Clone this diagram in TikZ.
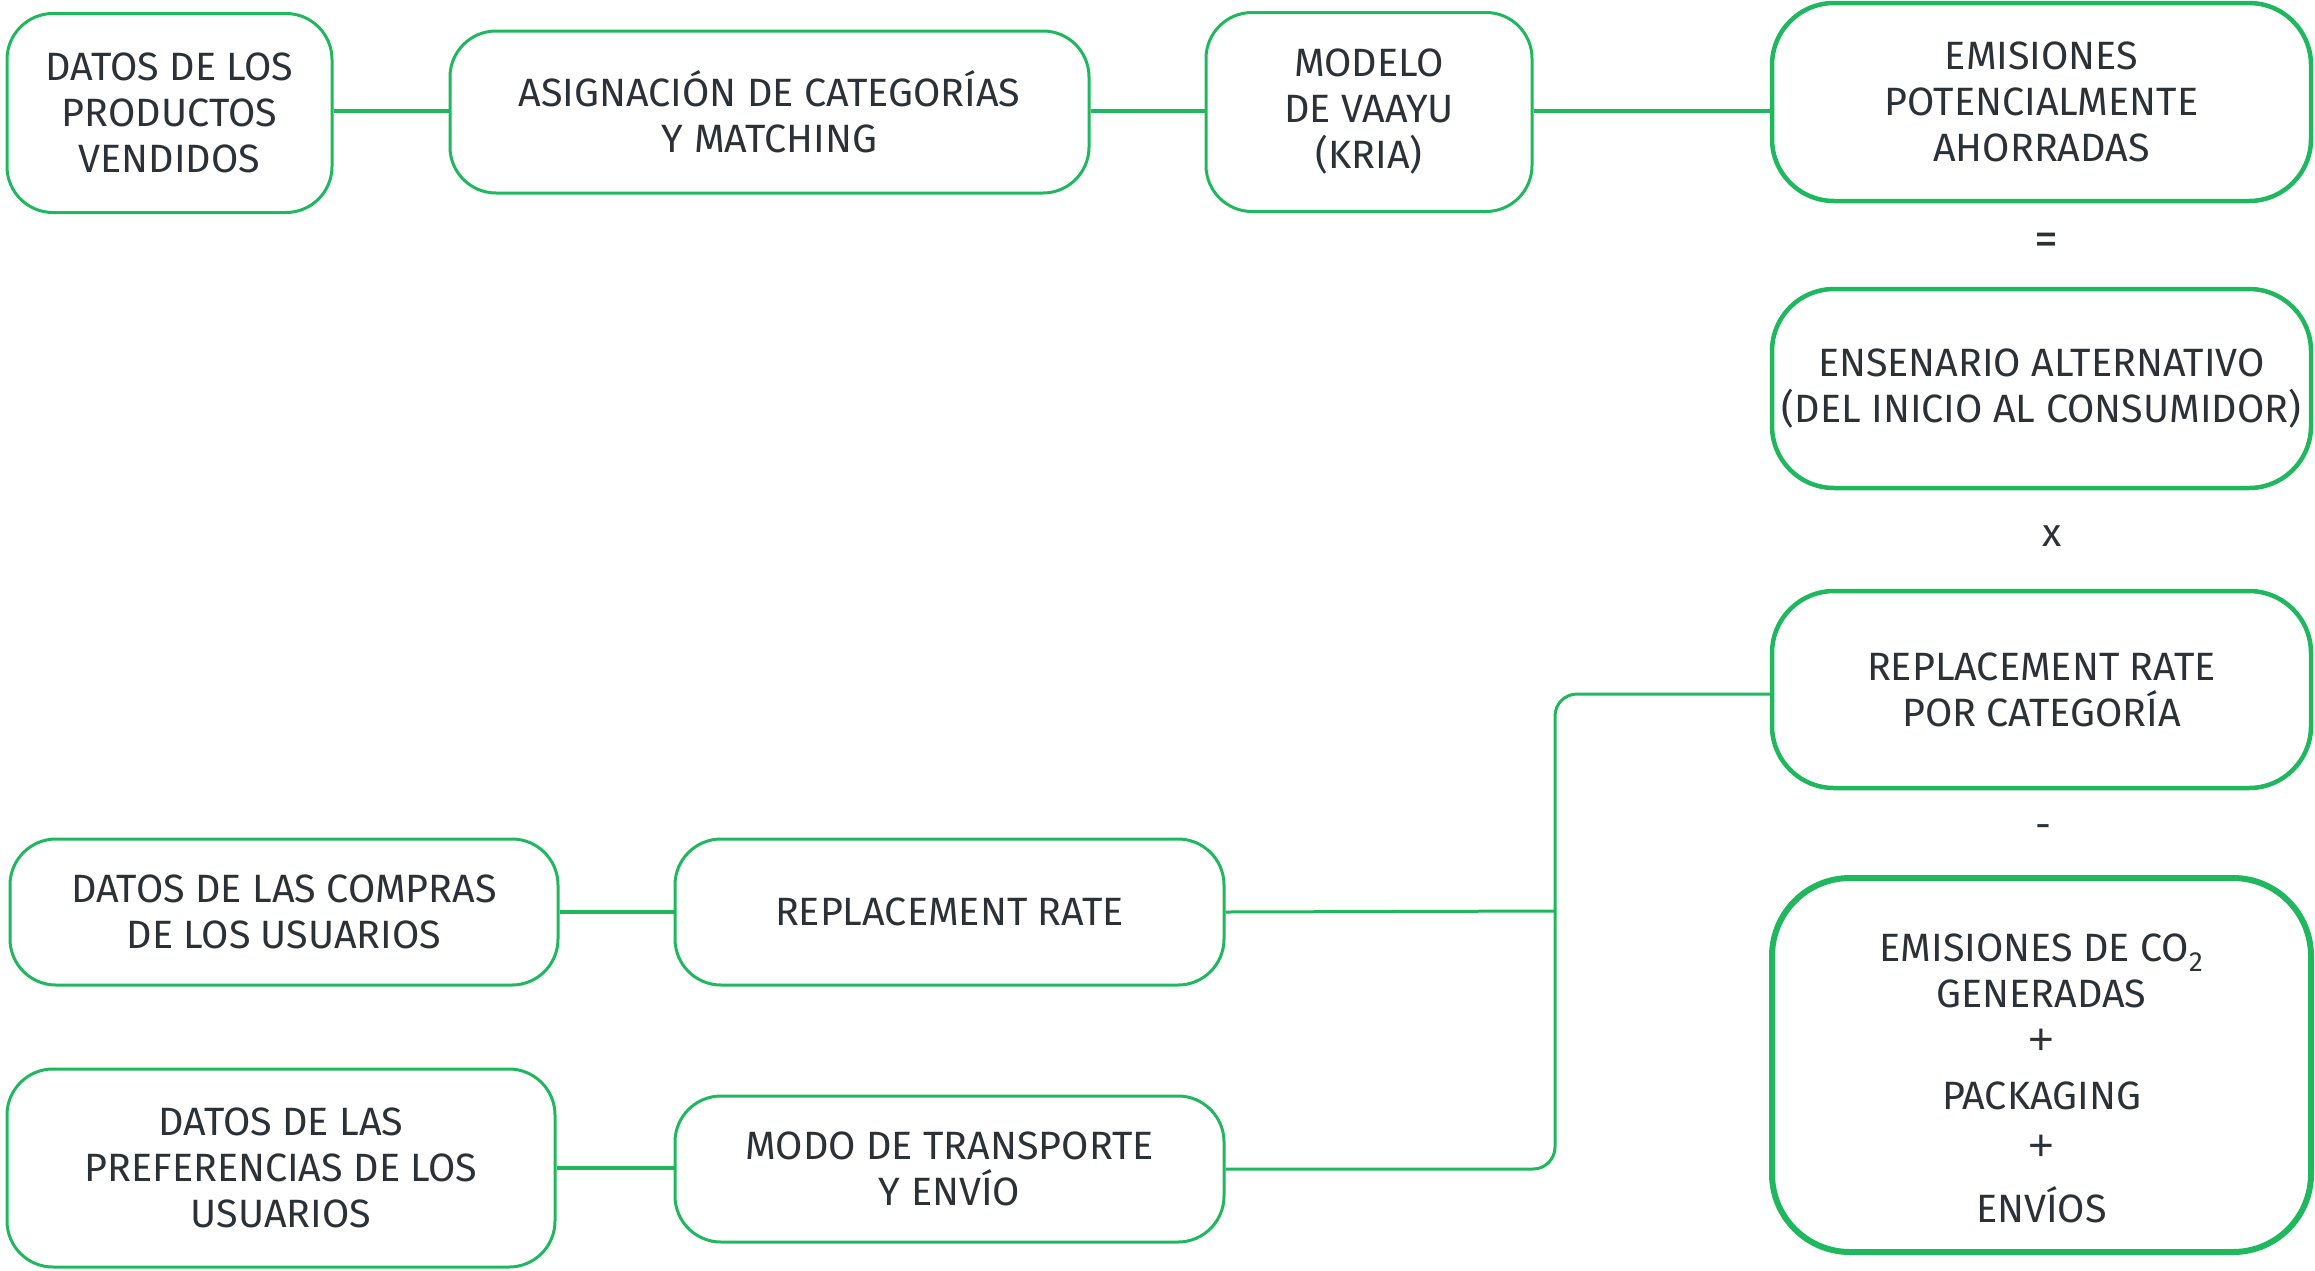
\documentclass[tikz,border=0pt]{standalone}
\usepackage{fontspec}
\setmainfont{Fira Sans}
\newfontfamily\plusfont{Liberation Sans}
\definecolor{grn}{HTML}{1FB85E}
\definecolor{txt}{HTML}{2B3137}
\newcommand{\bigplus}{{\plusfont\fontsize{44}{46}\selectfont +}}
\begin{document}
\begin{tikzpicture}[x=1pt,y=-1pt,
  box/.style={draw=grn, line width=3pt, rounded corners=46pt, align=center, text=txt,
    font=\fontsize{39.5}{46}\selectfont, inner sep=0pt},
  bigbox/.style={box, line width=4.5pt, rounded corners=62pt},
  hugebox/.style={box, line width=6pt, rounded corners=78pt},
  op/.style={text=txt, font=\fontsize{39.5}{46}\selectfont, inner sep=0pt},
  link/.style={draw=grn, line width=4pt},
  thinlink/.style={draw=grn, line width=3pt, rounded corners=22pt}]
\useasboundingbox (0,0) rectangle (2315,1270);
\node[box, minimum width=325pt, minimum height=199pt] (b1) at (169.5,113) {DATOS DE LOS\\PRODUCTOS\\VENDIDOS};
\node[box, minimum width=639pt, minimum height=162pt] (b2) at (769.5,112) {ASIGNACIÓN DE CATEGORÍAS\\Y MATCHING};
\node[box, minimum width=326pt, minimum height=199pt] (b3) at (1369,112) {MODELO\\DE VAAYU\\(KRIA)};
\node[bigbox, minimum width=539pt, minimum height=198pt] (b4) at (2041.5,102) {EMISIONES\\POTENCIALMENTE\\AHORRADAS};
\node[op, font=\fontsize{48}{46}\selectfont] (eq) at (2046,244) {=};
\node[bigbox, minimum width=539pt, minimum height=199pt] (b5) at (2041.5,388.5) {ENSENARIO ALTERNATIVO\\(DEL INICIO AL CONSUMIDOR)};
\node[op] (times) at (2052,536) {x};
\node[bigbox, minimum width=539pt, minimum height=197pt] (b6) at (2041.5,689.5) {REPLACEMENT RATE\\POR CATEGORÍA};
\node[op] (minus) at (2043,832) {-};
\node[hugebox, minimum width=539pt, minimum height=374pt] (b7) at (2041.5,1065) {\rule{0pt}{55pt}EMISIONES DE CO\textsubscript{2}\\GENERADAS\\[1pt]\bigplus\\[9pt]PACKAGING\\[5pt]\bigplus\\[16pt]ENVÍOS};
\node[box, minimum width=548pt, minimum height=146pt] (b8) at (284,912) {DATOS DE LAS COMPRAS\\DE LOS USUARIOS};
\node[box, minimum width=549pt, minimum height=146pt] (b9) at (949.5,912) {REPLACEMENT RATE};
\node[box, minimum width=548pt, minimum height=198pt] (b10) at (281,1168) {DATOS DE LAS\\PREFERENCIAS DE LOS\\USUARIOS};
\node[box, minimum width=549pt, minimum height=146pt] (b11) at (949.5,1169) {MODO DE TRANSPORTE\\Y ENVÍO};
\coordinate (jx) at (1555,911);
\draw[link] (b1.east |- 0,111) -- (b2.west |- 0,111);
\draw[link] (b2.east |- 0,111) -- (b3.west |- 0,111);
\draw[link] (b3.east |- 0,111) -- (b4.west |- 0,111);
\draw[link] (b8.east) -- (b9.west);
\draw[link] (b10.east) -- (b10.east -| b11.west);
\draw[thinlink] (b9.east) -- (jx);
\draw[thinlink] (b11.east) -- (b11.east -| jx) -- (jx |- 0,694) -- (b6.west |- 0,694);
\end{tikzpicture}
\end{document}
